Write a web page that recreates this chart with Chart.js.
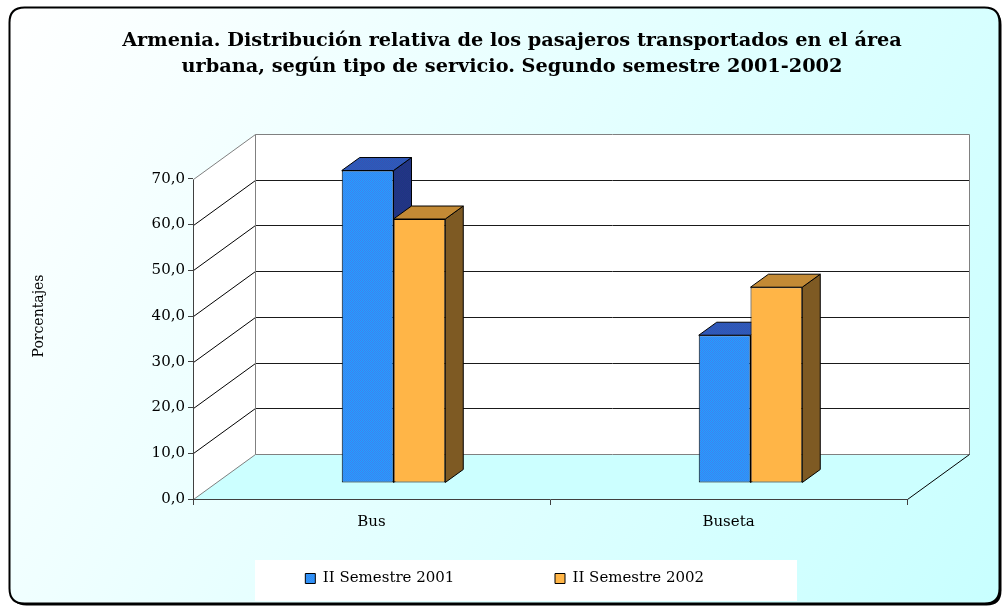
<!DOCTYPE html>
<html>
<head>
<meta charset="utf-8">
<script src="https://cdn.jsdelivr.net/npm/chart.js@4.4.1/dist/chart.umd.min.js"></script>
<style>
  html, body { margin: 0; padding: 0; background: #ffffff; }
  canvas { display: block; }
</style>
</head>
<body>
<canvas id="chart" width="1006" height="608"></canvas>
<script>
// ---------- data ----------
const titleLines = [
  'Armenia. Distribución relativa de los pasajeros transportados en el área',
  'urbana, según tipo de servicio. Segundo semestre 2001-2002'
];
const categories = ['Bus', 'Buseta'];
const seriesNames = ['II Semestre 2001', 'II Semestre 2002'];
const semestre2001 = [68.3, 32.3];
const semestre2002 = [57.7, 42.8];
const yTicks = [0, 10, 20, 30, 40, 50, 60, 70];
const yAxisTitle = 'Porcentajes';

// ---------- style ----------
const FONT = "'DejaVu Serif', 'Liberation Serif', serif";
const DEPTH = { dx: 62, dy: -45 };        // 3D depth of floor / walls
const BAR_FRONT = 0.35;                   // depth fraction of bar front faces
const BAR_DEPTH = { dx: 18, dy: -13 };    // extrusion of each bar
const FRAME = { x: 9, y: 7, w: 990, h: 596, r: 15 };
const LEGEND_BOX = { left: 255, width: 542, height: 41 };
const LEGEND_GAP = ' '.repeat(19);

const ctx0 = document.getElementById('chart').getContext('2d');
function checker(a, b) {
  const c = document.createElement('canvas');
  c.width = 2; c.height = 2;
  const g = c.getContext('2d');
  g.fillStyle = a; g.fillRect(0, 0, 2, 2);
  g.fillStyle = b; g.fillRect(0, 0, 1, 1); g.fillRect(1, 1, 1, 1);
  return ctx0.createPattern(c, 'repeat');
}
const faceStyles = [
  { front: checker('#22A0FF', '#3F80EE'), top: checker('#2560C0', '#3A50B0'), side: checker('#1C3A80', '#263088') },
  { front: '#FFB547', top: '#C38A35', side: '#7E5A23' }
];

function poly(ctx, pts, fill, stroke) {
  ctx.beginPath();
  ctx.moveTo(pts[0][0], pts[0][1]);
  for (let i = 1; i < pts.length; i++) ctx.lineTo(pts[i][0], pts[i][1]);
  ctx.closePath();
  if (fill) { ctx.fillStyle = fill; ctx.fill(); }
  if (stroke) { ctx.strokeStyle = stroke; ctx.lineWidth = 1; ctx.stroke(); }
}
function line(ctx, x1, y1, x2, y2, color) {
  ctx.beginPath();
  ctx.moveTo(x1, y1); ctx.lineTo(x2, y2);
  ctx.strokeStyle = color; ctx.lineWidth = 1; ctx.stroke();
}
function roundRect(ctx, x, y, w, h, r) {
  ctx.beginPath();
  ctx.moveTo(x + r, y);
  ctx.lineTo(x + w - r, y); ctx.quadraticCurveTo(x + w, y, x + w, y + r);
  ctx.lineTo(x + w, y + h - r); ctx.quadraticCurveTo(x + w, y + h, x + w - r, y + h);
  ctx.lineTo(x + r, y + h); ctx.quadraticCurveTo(x, y + h, x, y + h - r);
  ctx.lineTo(x, y + r); ctx.quadraticCurveTo(x, y, x + r, y);
  ctx.closePath();
}

const scene3d = {
  id: 'scene3d',
  beforeDraw(chart) {
    const { ctx, chartArea: ca, scales } = chart;
    const ys = scales.y;
    ctx.save();
    // frame with shadow and gradient
    roundRect(ctx, FRAME.x + 2.5, FRAME.y + 2.5, FRAME.w, FRAME.h, FRAME.r);
    ctx.fillStyle = '#000'; ctx.fill();
    const g = ctx.createLinearGradient(FRAME.x, FRAME.y, FRAME.x + FRAME.w, FRAME.y + FRAME.h);
    g.addColorStop(0, '#FFFFFF');
    g.addColorStop(1, '#C8FFFF');
    roundRect(ctx, FRAME.x + 0.5, FRAME.y + 0.5, FRAME.w, FRAME.h, FRAME.r);
    ctx.fillStyle = g; ctx.fill();
    ctx.lineWidth = 2; ctx.strokeStyle = '#000'; ctx.stroke();

    // walls and floor
    const L = Math.round(ca.left) + 0.5, R = Math.round(ca.right) + 0.5;
    const yTopVal = yTicks[yTicks.length - 1];
    const y0 = Math.round(ys.getPixelForValue(0)) + 0.5;
    const yT = Math.round(ys.getPixelForValue(yTopVal)) + 0.5;
    const DX = DEPTH.dx, DY = DEPTH.dy;
    poly(ctx, [[L, y0], [L, yT], [L + DX, yT + DY], [L + DX, y0 + DY]], '#FFFFFF');
    poly(ctx, [[L + DX, yT + DY], [R + DX, yT + DY], [R + DX, y0 + DY], [L + DX, y0 + DY]], '#FFFFFF');
    poly(ctx, [[L, y0], [R, y0], [R + DX, y0 + DY], [L + DX, y0 + DY]], '#CCFFFF');
    yTicks.forEach(v => {
      if (v <= 0 || v >= yTopVal) return;
      const yv = Math.round(ys.getPixelForValue(v)) + 0.5;
      line(ctx, L, yv, L + DX, yv + DY, '#000');
      line(ctx, L + DX, yv + DY, R + DX, yv + DY, '#1a1a1a');
    });
    const gray = '#808080';
    line(ctx, L, yT, L + DX, yT + DY, gray);
    line(ctx, L + DX, yT + DY, R + DX, yT + DY, gray);
    line(ctx, L + DX, yT + DY, L + DX, y0 + DY, gray);
    line(ctx, R + DX, yT + DY, R + DX, y0 + DY, gray);
    line(ctx, L + DX, y0 + DY, R + DX, y0 + DY, gray);
    line(ctx, L, y0, L + DX, y0 + DY, gray);
    line(ctx, R, y0, R + DX, y0 + DY, '#000');
    line(ctx, L, yT, L, y0, '#404040');

    // legend white panel
    if (chart.legend) {
      ctx.fillStyle = '#FFFFFF';
      ctx.fillRect(LEGEND_BOX.left, Math.round(chart.legend.top) - 1, LEGEND_BOX.width, LEGEND_BOX.height);
    }
    ctx.restore();
  },
  beforeDatasetsDraw(chart) {
    const ctx = chart.ctx;
    ctx.save();
    ctx.translate(Math.round(BAR_FRONT * DEPTH.dx), Math.round(BAR_FRONT * DEPTH.dy));
    chart.data.datasets.forEach((ds, di) => {
      const meta = chart.getDatasetMeta(di);
      const st = faceStyles[di];
      meta.data.forEach(bar => {
        const { x, y, base, width } = bar.getProps(['x', 'y', 'base', 'width'], true);
        const l = x - width / 2, r = x + width / 2;
        const t = Math.min(y, base), b = Math.max(y, base);
        const bx = BAR_DEPTH.dx, by = BAR_DEPTH.dy;
        poly(ctx, [[r, t], [r + bx, t + by], [r + bx, b + by], [r, b]], st.side, '#000');
        poly(ctx, [[l, t], [r, t], [r + bx, t + by], [l + bx, t + by]], st.top, '#000');
      });
    });
  },
  afterDatasetsDraw(chart) {
    chart.ctx.restore();
  }
};

const fmt = v => v.toFixed(1).replace('.', ',');

new Chart(ctx0, {
  type: 'bar',
  data: {
    labels: categories,
    datasets: [
      { label: seriesNames[0], data: semestre2001, yAxisID: 'y', backgroundColor: faceStyles[0].front,
        borderColor: '#000', borderWidth: 1, borderSkipped: false },
      { label: seriesNames[1], data: semestre2002, yAxisID: 'y', backgroundColor: faceStyles[1].front,
        borderColor: '#000', borderWidth: 1, borderSkipped: false }
    ]
  },
  options: {
    responsive: false,
    animation: false,
    devicePixelRatio: 1,
    datasets: { bar: { categoryPercentage: 0.29, barPercentage: 1.0 } },
    layout: { padding: { left: 20, right: 2, top: 0, bottom: 12 } },
    plugins: {
      tooltip: { enabled: false },
      title: {
        display: true,
        text: titleLines,
        color: '#000',
        font: { family: FONT, size: 19.3, weight: 'bold', lineHeight: 26 / 19.3 },
        padding: { top: 28, bottom: 53 }
      },
      legend: {
        position: 'bottom',
        fullSize: false,
        labels: {
          boxWidth: 10, boxHeight: 10, padding: 10, color: '#000',
          font: { family: FONT, size: 15 },
          generateLabels: chart => Chart.defaults.plugins.legend.labels.generateLabels(chart)
            .map(it => Object.assign({}, it, { text: it.text + LEGEND_GAP }))
        }
      }
    },
    scales: {
      x: {
        grid: { display: true, offset: true, drawOnChartArea: false, drawTicks: true, tickLength: 6, color: '#404040' },
        border: { display: true, color: '#404040', width: 1 },
        ticks: { color: '#000', padding: 8.6, font: { family: FONT, size: 15 } },
        afterFit: s => { s.height = 62; }
      },
      y: {
        min: 0, max: 80,
        afterBuildTicks: s => { s.ticks = yTicks.map(v => ({ value: v })); },
        grid: { display: true, drawOnChartArea: false, drawTicks: true, tickLength: 5, color: '#404040' },
        border: { display: false },
        ticks: { color: '#000', padding: 3, font: { family: FONT, size: 15 }, callback: v => fmt(v) },
        title: { display: true, text: yAxisTitle, color: '#000', font: { family: FONT, size: 14 }, padding: { top: 10.6, bottom: 0 } },
        afterFit: s => { s.width = 173; }
      },
      depth: {
        type: 'linear', position: 'right', display: true,
        grid: { display: false }, border: { display: false }, ticks: { display: false },
        afterFit: s => { s.width = 97; }
      }
    }
  },
  plugins: [scene3d]
});
</script>
</body>
</html>
